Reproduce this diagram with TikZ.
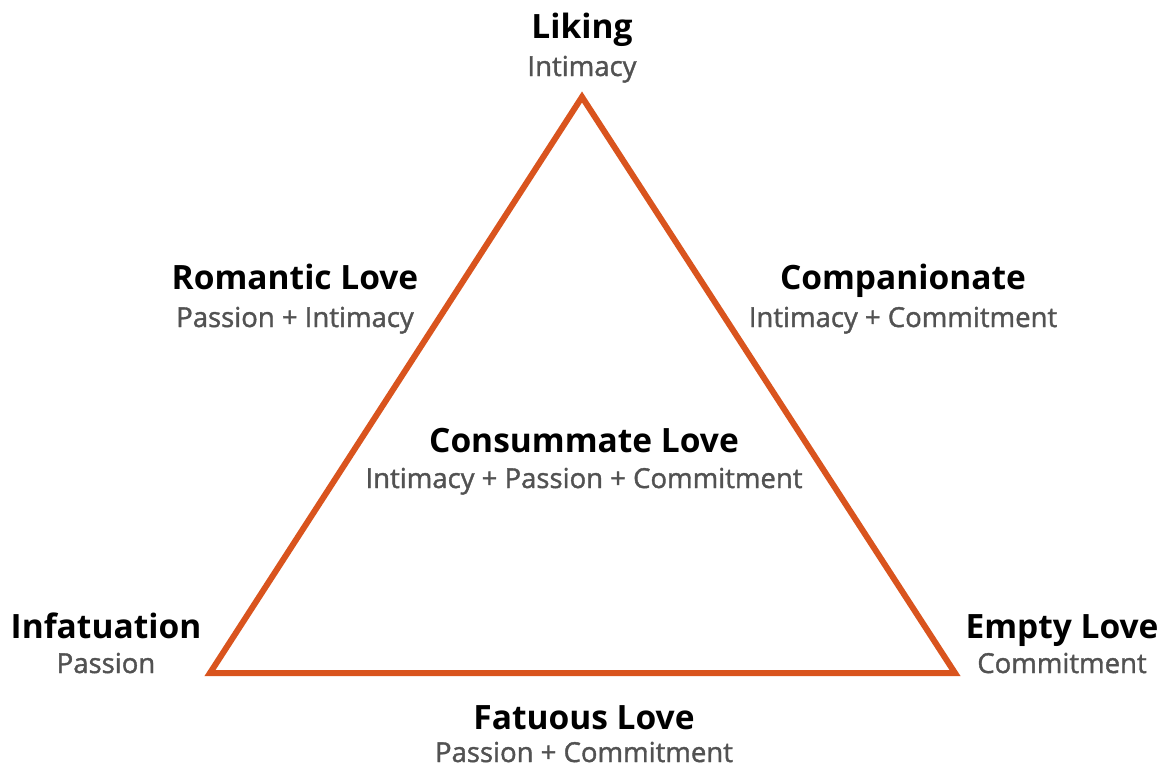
\documentclass[tikz,border=0pt]{standalone}
\usepackage{fontspec}
\setmainfont{Open Sans}
\newfontfamily\subfont{Open Sans}[FakeBold=1.4]
\definecolor{triorange}{HTML}{D9541E}
\definecolor{subgray}{HTML}{525252}
\begin{document}
\begin{tikzpicture}[
  x=1pt, y=-1pt,
  title/.style={
    font=\bfseries\fontsize{33.5}{36}\selectfont,
    text=black,
    anchor=base,
    inner sep=0pt
  },
  sub/.style={
    font=\subfont\fontsize{27.5}{30}\selectfont,
    text=subgray,
    anchor=base,
    inner sep=0pt
  }
]
\useasboundingbox (0,0) rectangle (1166,768);
\coordinate (top) at (582,97);
\coordinate (left) at (210,673);
\coordinate (right) at (955,673);
\draw[triorange, line width=6pt, line join=miter] (top) -- (left) -- (right) -- cycle;
% corner labels
\node[title] (liking) at (582,39) {Liking};
\node[sub] (liking-s) at (582,76) {Intimacy};
\node[title] (infat) at (106,638) {Infatuation};
\node[sub] (infat-s) at (106,673) {Passion};
\node[title] (empty) at (1062,638) {Empty Love};
\node[sub] (empty-s) at (1062,673) {Commitment};
% side labels
\node[title] (roman) at (295,289) {Romantic Love};
\node[sub] (roman-s) at (295,327) {Passion + Intimacy};
\node[title] (comp) at (903,289) {Companionate};
\node[sub] (comp-s) at (903,327) {Intimacy + Commitment};
\node[title] (fatu) at (584,729) {Fatuous Love};
\node[sub] (fatu-s) at (584,762) {Passion + Commitment};
% centre
\node[title] (cons) at (584,452) {Consummate Love};
\node[sub] (cons-s) at (584,488) {Intimacy + Passion + Commitment};
\end{tikzpicture}
\end{document}
